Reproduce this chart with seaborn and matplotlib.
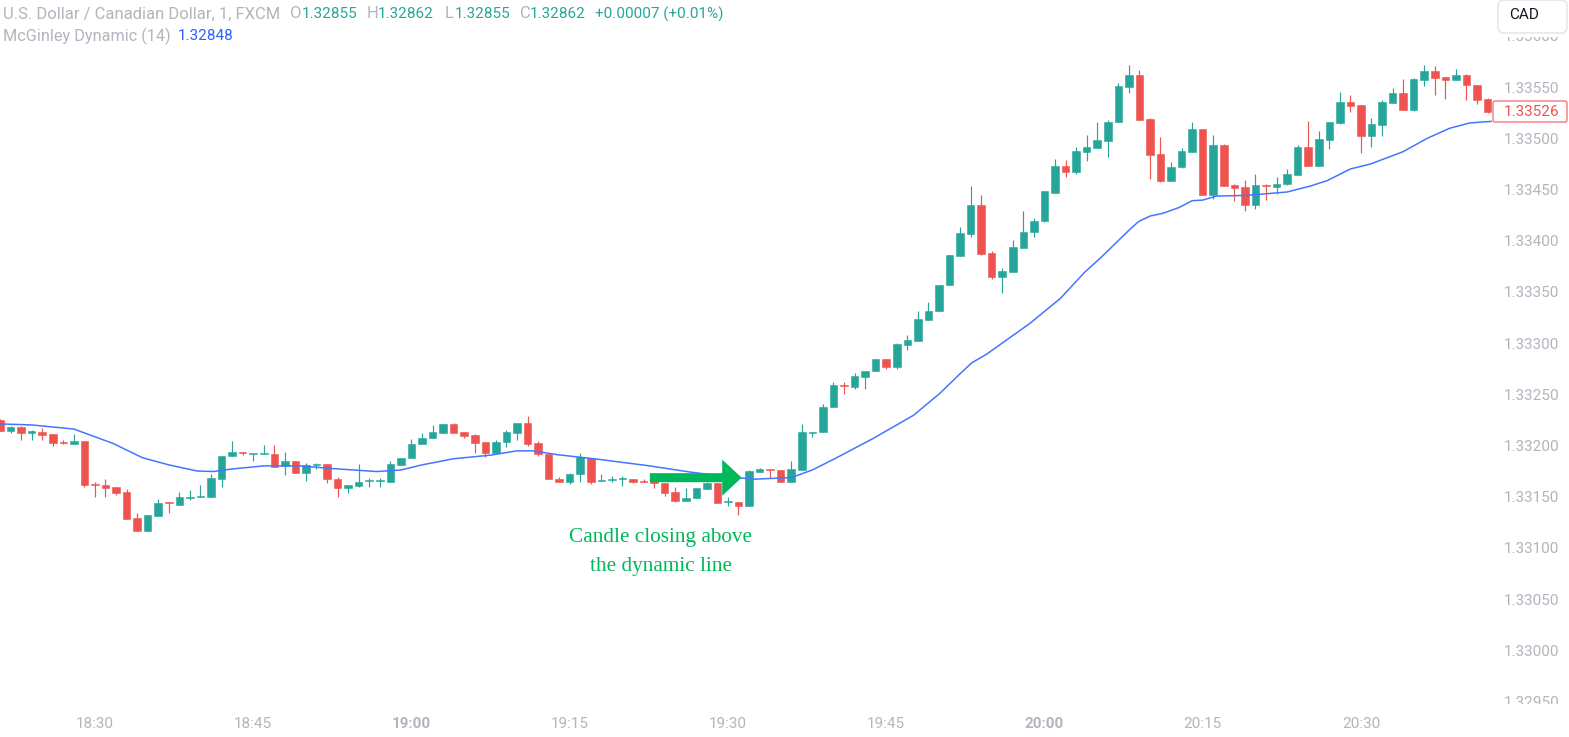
import matplotlib
matplotlib.use('Agg')
from matplotlib import pyplot as plt
from matplotlib.patches import FancyBboxPatch
from matplotlib.transforms import Bbox, IdentityTransform, blended_transform_factory
import pandas as pd
import seaborn as sns

# prices are kept in points above 1.33000 (1 point = 0.00001)
opens = [225,214,218,212,213,211,203,201,204,162,
         161,159,155,129,116,131,145,142,149,150,
         150,167,190,194,192,192,192,180,185,173,
         181,182,167,158,160,165,165,164,181,188,
         201,207,212,221,213,210,203,193,203,212,
         222,202,192,167,164,172,188,165,166,167,
         167,165,166,163,155,146,149,157,163,145,
         145,141,174,177,176,164,176,212,213,238,
         259,257,267,273,284,277,298,302,322,331,
         357,385,406,435,388,364,369,393,408,419,
         447,473,467,487,490,497,516,550,562,519,
         485,458,472,487,509,445,493,454,452,435,
         454,452,455,464,491,473,498,515,535,532,
         502,513,534,544,528,557,566,560,557,562,
         552,538]
highs = [226,219,219,215,217,211,205,211,204,164,
         167,159,157,134,132,148,145,155,156,161,
         172,190,204,194,193,200,200,194,185,183,
         183,182,169,161,182,168,168,185,188,206,
         212,220,221,222,213,211,203,205,215,222,
         229,204,192,169,173,193,188,172,170,170,
         167,167,166,163,159,158,158,164,163,150,
         145,176,178,177,176,185,221,213,240,262,
         262,271,273,284,284,300,308,331,340,357,
         386,413,453,445,390,373,401,429,422,448,
         480,479,491,503,516,518,554,572,567,520,
         501,477,490,516,509,503,494,455,459,465,
         455,462,470,493,517,507,516,545,542,532,
         520,537,549,558,559,572,571,560,568,563,
         552,539]
lows = [214,212,205,205,205,199,201,201,159,150,
        150,152,128,116,116,131,134,142,147,150,
        150,159,190,191,185,192,179,171,173,165,
        177,163,150,154,159,159,159,164,181,188,
        201,207,212,212,207,193,189,193,198,205,
        199,190,167,164,162,164,162,165,164,160,
        163,164,158,151,145,146,149,157,144,141,
        132,141,174,168,164,164,176,208,213,238,
        250,255,255,273,275,275,293,302,322,331,
        357,385,404,386,363,349,369,393,404,418,
        447,462,465,478,490,482,516,544,518,460,
        457,458,471,487,445,441,453,439,429,431,
        440,446,454,464,473,473,489,514,526,486,
        491,502,534,528,527,551,542,538,557,537,
        533,525]
closes = [214,218,212,214,210,202,202,204,161,161,
          158,154,128,116,132,144,144,150,150,151,
          168,190,194,193,193,193,179,185,173,181,
          182,167,158,161,164,166,166,182,188,201,
          207,213,221,212,209,202,193,203,213,222,
          201,192,167,164,172,189,164,166,167,168,
          164,164,163,154,146,149,158,163,144,146,
          141,175,177,176,164,177,213,213,238,259,
          258,268,273,284,277,299,303,323,331,357,
          386,407,435,387,364,370,394,408,419,448,
          473,467,488,491,498,516,551,562,518,484,
          458,472,488,509,445,493,453,451,435,454,
          453,455,465,491,473,499,516,535,531,502,
          514,535,544,528,558,566,559,557,562,552,
          537,526]

# McGinley line, read at these candle positions
ma_pos = [0,3,7,10.7,13.5,16,18.7,20.2,22,25,28.5,31.5,35.7,38,40,43,46.5,49,50.5,
          52.8,56.6,61.6,65.4,68.5,71.4,75,77,79.3,82.8,86.6,89.1,91,92.1,93.5,97.6,
          100.5,102.8,104.3,107,107.9,109,110.2,111.8,113,114,115.3,118.2,122,124.2,
          125.8,128,129.9,133,135.3,137.4,139.3,141.4]
ma_pts = [221,220,216,202,188,181,175,174.5,177,180,180,177.4,174.5,176,181,187,190.5,194.7,194.7,
          191,186.6,180,174,170,167,168.6,176,188,207,229.5,251,270,280.6,289,319,
          343.5,369,383,410,418.5,424,426.6,432.5,439,439.6,443.5,444.2,447.5,453.3,
          458.6,470,474.8,486.9,500,509.7,514.9,516.5]

time_pos = [9, 24, 39, 54, 69, 84, 99, 114, 129]
time_labels = ['18:30', '18:45', '19:00', '19:15', '19:30', '19:45', '20:00', '20:15', '20:30']
price_ticks = [1.3295, 1.33, 1.3305, 1.331, 1.3315, 1.332, 1.3325, 1.333, 1.3335, 1.334, 1.3345, 1.335, 1.3355, 1.336]
last_price = 1.33526

UP = '#26a69a'
DOWN = '#ef5350'
GREY = '#b2b5be'
ARROW = '#00b85c'
W, H = 1569, 737


def to_price(pts):
    return 1.33 + pts / 1e5


df = pd.DataFrame({'open': opens, 'high': highs, 'low': lows, 'close': closes}).apply(to_price)
df['pos'] = range(len(df))
df['color'] = [UP if c >= o else DOWN for o, c in zip(df.open, df.close)]
ma = pd.DataFrame({'pos': ma_pos, 'value': [to_price(p) for p in ma_pts]})

sns.set_style('white')
plt.rcParams['font.family'] = ['Roboto', 'DejaVu Sans']

fig = plt.figure(figsize=(W / 100, H / 100), dpi=100)
ax = fig.add_axes([0, (H - 708) / H, 1492 / W, 708 / H])

ax.vlines(df.pos, df.low, df.high, colors=df.color, linewidth=0.85, zorder=2)
ax.bar(df.pos, (df.close - df.open).abs(), bottom=df[['open', 'close']].min(axis=1),
       width=0.72, color=df.color, edgecolor=df.color, linewidth=0.4, zorder=3)
sns.lineplot(data=ma, x='pos', y='value', color='#4575ff', linewidth=1.1, estimator=None,
             sort=False, ax=ax, zorder=4)

ax.set_xlim(0, 1492 / 10.55)
ax.set_ylim(to_price(635 - 708 * 0.9766), to_price(635))
ax.set_xlabel('')
ax.set_ylabel('')
for s in ax.spines.values():
    s.set_visible(False)

ax.set_xticks(time_pos)
ax.set_xticklabels(time_labels)
ax.yaxis.tick_right()
ax.set_yticks(price_ticks)
ax.set_yticklabels(['%.5f' % t for t in price_ticks])
ax.tick_params(axis='x', length=0, pad=6.5, labelsize=11, labelcolor=GREY)
ax.tick_params(axis='y', length=0, pad=8.5, labelsize=11, labelcolor=GREY)
for lbl in ax.get_xticklabels():
    if lbl.get_text().endswith(':00'):
        lbl.set_fontweight('bold')
# the top and bottom price labels are cut off by the pane
for lbl in ax.get_yticklabels():
    lbl.set_clip_on(True)
    lbl.set_clip_box(Bbox([[1492, H - 704], [W, H - 37]]))

# arrow and note
ax.annotate('', xy=(70.3, to_price(168.5)), xytext=(61.6, to_price(168.5)),
            arrowprops=dict(width=6.5, headwidth=26, headlength=14, shrink=0,
                            color=ARROW, linewidth=0), zorder=6)
ax.text(62.65, to_price(110), 'Candle closing above', color=ARROW, family='Liberation Serif',
        fontsize=15.3, ha='center', va='center')
ax.text(62.65, to_price(82), 'the dynamic line', color=ARROW, family='Liberation Serif',
        fontsize=15.3, ha='center', va='center')


def top_text(x, y, s, color=GREY, size=11):
    fig.text(x / W, 1 - y / H, s, color=color, fontsize=size, va='center', ha='left')


top_text(3, 14, 'U.S. Dollar / Canadian Dollar, 1, FXCM', size=12)
for x, s in [(290, 'O'), (367, 'H'), (445, 'L'), (520, 'C')]:
    top_text(x, 14, s, size=12)
for x, s in [(302, '1.32855'), (378, '1.32862'), (455, '1.32855'), (530, '1.32862'),
             (595, '+0.00007 (+0.01%)')]:
    top_text(x, 14, s, color=UP)
top_text(3, 36, 'McGinley Dynamic (14)', size=11.7)
top_text(178, 36, '1.32848', color='#2962ff')

# last price tag
fig.add_artist(FancyBboxPatch((1493, H - 122), 74, 21, boxstyle='round,pad=0,rounding_size=2',
                              facecolor='white', edgecolor='#f7757a', linewidth=1,
                              transform=IdentityTransform()))
fig.text(1504 / W, last_price, '%.5f' % last_price, color=DOWN, fontsize=11, va='center', ha='left',
         transform=blended_transform_factory(fig.transFigure, ax.transData), zorder=5)

# currency button
fig.add_artist(FancyBboxPatch((1498, H - 33), 69, 33, boxstyle='round,pad=0,rounding_size=6',
                              facecolor='white', edgecolor='#e0e3eb', linewidth=1,
                              transform=IdentityTransform()))
fig.text(1524 / W, 1 - 15 / H, 'CAD', color='#131722', fontsize=11, ha='center', va='center', zorder=5)

fig.savefig('out.png', dpi=100)
